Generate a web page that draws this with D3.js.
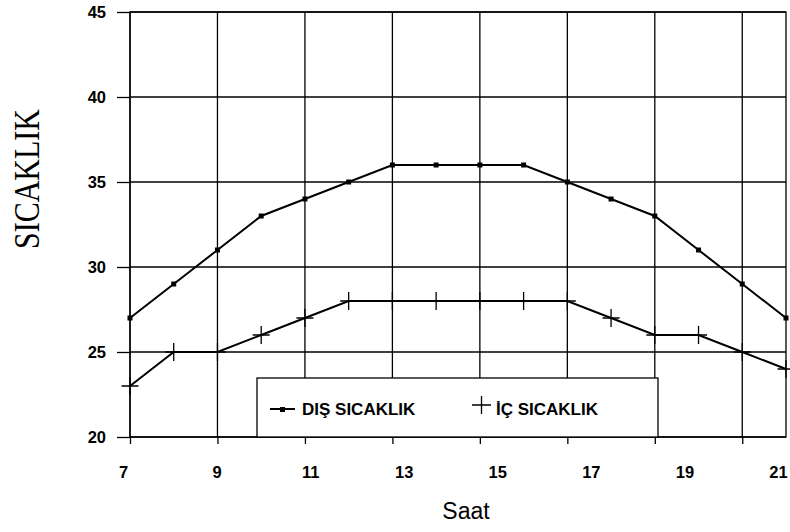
<!DOCTYPE html>
<html>
<head>
<meta charset="utf-8">
<script src="https://cdn.jsdelivr.net/npm/d3@7"></script>
<style>
  body { margin: 0; background: #fff; }
  text { fill: #000; }
</style>
</head>
<body>
<svg id="chart" width="790" height="532"></svg>
<script>
// readings, one per plotted point (16 points along the hour axis)
const pointIdx = [0, 1, 2, 3, 4, 5, 6, 7, 8, 9, 10, 11, 12, 13, 14, 15];
const disSicaklik = [27, 29, 31, 33, 34, 35, 36, 36, 36, 36, 35, 34, 33, 31, 29, 27];
const icSicaklik = [23, 25, 25, 26, 27, 28, 28, 28, 28, 28, 28, 27, 26, 26, 25, 24];

const gridIdx = [0, 2, 4, 6, 8, 10, 12, 14];
const hourTicks = [7, 9, 11, 13, 15, 17, 19, 21];
const yTicks = [20, 25, 30, 35, 40, 45];

const svg = d3.select('svg#chart');
const plotL = 130, plotR = 786, plotT = 12, plotB = 437;

const x = d3.scaleLinear().domain([0, 15]).range([plotL, plotR]);
const xHour = d3.scaleLinear().domain([7, 21]).range([123, 778]);
const y = d3.scaleLinear().domain([20, 45]).range([plotB, plotT]);

const font = '"Liberation Sans", Arial, sans-serif';

// grid
const grid = svg.append('g').attr('stroke', '#000').attr('stroke-width', 1.3);
grid.selectAll('line.v').data(gridIdx)
  .enter().append('line')
    .attr('class', 'v')
    .attr('x1', d => x(d)).attr('x2', d => x(d))
    .attr('y1', plotT).attr('y2', plotB);
grid.selectAll('line.h').data(yTicks)
  .enter().append('line')
    .attr('class', 'h')
    .attr('x1', plotL).attr('x2', plotR)
    .attr('y1', d => y(d)).attr('y2', d => y(d));
grid.append('rect')
  .attr('x', plotL).attr('y', plotT)
  .attr('width', plotR - plotL).attr('height', plotB - plotT)
  .attr('fill', 'none');

// y axis
const yAxis = svg.append('g')
  .attr('transform', `translate(${plotL},0)`)
  .call(d3.axisLeft(y).tickValues(yTicks).tickSize(13).tickPadding(11));
yAxis.select('.domain').remove();
yAxis.selectAll('line').attr('stroke-width', 1.3);
yAxis.selectAll('text')
  .style('font-family', font).style('font-size', '16.5px').style('font-weight', 'bold');

// x axis: tick marks on the grid, labels on the hour scale
const xAxis = svg.append('g')
  .attr('transform', `translate(0,${plotB})`)
  .call(d3.axisBottom(x).tickValues(gridIdx).tickSize(7).tickFormat(''));
xAxis.select('.domain').remove();
xAxis.selectAll('line').attr('stroke-width', 1.3);

const xLabels = svg.append('g')
  .attr('transform', `translate(0,${plotB + 26})`)
  .call(d3.axisBottom(xHour).tickValues(hourTicks).tickSize(0).tickFormat(d => d));
xLabels.select('.domain').remove();
xLabels.selectAll('text')
  .style('font-family', font).style('font-size', '16.5px').style('font-weight', 'bold');

// legend box
const legend = svg.append('g');
legend.append('rect')
  .attr('x', 257).attr('y', 378).attr('width', 401).attr('height', plotB - 378)
  .attr('fill', '#fff').attr('stroke', '#000').attr('stroke-width', 1.3);
legend.append('line')
  .attr('x1', 270).attr('x2', 295).attr('y1', 409).attr('y2', 409)
  .attr('stroke', '#000').attr('stroke-width', 2);
legend.append('rect')
  .attr('x', 280).attr('y', 407).attr('width', 5).attr('height', 5).attr('fill', '#000');
legend.append('text')
  .attr('x', 302).attr('y', 415)
  .style('font-family', font).style('font-size', '17px').style('font-weight', 'bold')
  .text('DIŞ SICAKLIK');
legend.append('path')
  .attr('d', 'M472,405H491M481.5,396V414')
  .attr('stroke', '#000').attr('stroke-width', 1.3);
legend.append('text')
  .attr('x', 496).attr('y', 415)
  .style('font-family', font).style('font-size', '17px').style('font-weight', 'bold')
  .text('İÇ SICAKLIK');

// series lines
const line = (vals) => d3.line()
  .x(d => x(d))
  .y(d => y(vals[d]));

svg.append('path')
  .datum(pointIdx)
  .attr('d', line(disSicaklik))
  .attr('fill', 'none').attr('stroke', '#000').attr('stroke-width', 2);

svg.append('path')
  .datum(pointIdx)
  .attr('d', line(icSicaklik))
  .attr('fill', 'none').attr('stroke', '#000').attr('stroke-width', 2);

// markers
svg.selectAll('rect.dis').data(pointIdx)
  .enter().append('rect')
    .attr('class', 'dis')
    .attr('x', d => x(d) - 2.5).attr('y', d => y(disSicaklik[d]) - 2.5)
    .attr('width', 5).attr('height', 5)
    .attr('fill', '#000');

svg.selectAll('path.ic').data(pointIdx)
  .enter().append('path')
    .attr('class', 'ic')
    .attr('d', d => `M${x(d) - 8.5},${y(icSicaklik[d])}h17M${x(d)},${y(icSicaklik[d]) - 9}v18`)
    .attr('stroke', '#000').attr('stroke-width', 1.3);

// axis titles
svg.append('text')
  .attr('transform', 'translate(39,179) rotate(-90) scale(1,1.2)')
  .attr('text-anchor', 'middle')
  .style('font-family', '"Liberation Serif", "Times New Roman", serif')
  .style('font-size', '30px')
  .text('SICAKLIK');

svg.append('text')
  .attr('x', 466).attr('y', 519)
  .attr('text-anchor', 'middle')
  .style('font-family', font).style('font-size', '23px')
  .text('Saat');
</script>
</body>
</html>
